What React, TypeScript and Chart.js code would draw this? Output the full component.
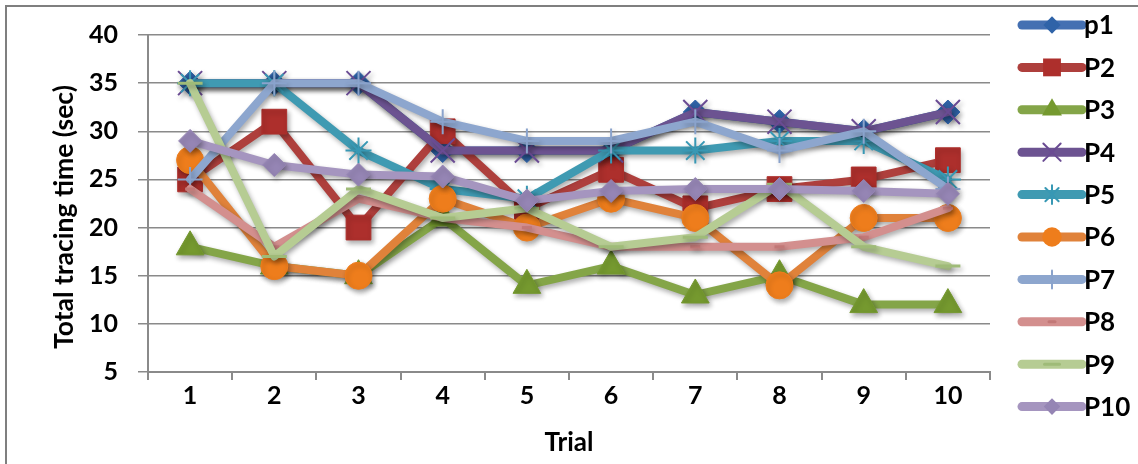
import React, { useEffect, useRef } from "react";
import { Chart, registerables } from "chart.js";

Chart.register(...registerables);

// Trials on the x axis
const trials = ["1", "2", "3", "4", "5", "6", "7", "8", "9", "10"];

// Participants (legend order)
const participants = ["p1", "P2", "P3", "P4", "P5", "P6", "P7", "P8", "P9", "P10"];

// Total tracing time (sec) per trial
const p1 = [35, 35, 35, 28, 28, 28, 32, 31, 30, 32];
const p2 = [25, 31, 20, 30, 22, 26, 22, 24, 25, 27];
const p3 = [18, 16, 15, 21, 14, 16, 13, 15, 12, 12];
const p4 = [35, 35, 35, 28, 28, 28, 32, 31, 30, 32];
const p5 = [35, 35, 28, 24, 23, 28, 28, 29, 29, 25];
const p6 = [27, 16, 15, 23, 20, 23, 21, 14, 21, 21];
const p7 = [25, 35, 35, 31, 29, 29, 31, 28, 30, 24];
const p8 = [24, 18, 23, 21, 20, 18, 18, 18, 19, 22];
const p9 = [35, 17, 24, 21, 22, 18, 19, 24.5, 18, 16];
const p10 = [29, 26.5, 25.5, 25.3, 22.8, 23.8, 24, 24, 23.8, 23.5];

const seriesValues = [p1, p2, p3, p4, p5, p6, p7, p8, p9, p10];

// Y axis range and tick step
const yMin = 5;
const yMax = 40;
const yStep = 5;

const lineColors = [
  "#4470B2", "#AE3F3C", "#84A548", "#6C5391", "#3F9AB2",
  "#E0823A", "#8DA6CE", "#D38F8E", "#B6CC93", "#A595BF",
];
const markerColors = [
  "#2F63A8", "#AD2F2C", "#75992F", "#6A4B93", "#3898B4",
  "#EE7D1C", "#8AA3CC", "#C27877", "#9FBB78", "#9585B4",
];
const markerStyles = [
  "rectRot", "rect", "triangle", "crossRot", "star",
  "circle", "cross", "line", "line", "rectRot",
];
const markerRadii = [12, 17.5, 16, 17, 13, 13.5, 12.5, 5, 12.5, 11.5];
const markerBorderWidths = [1, 1, 1, 2, 2, 1, 2, 3, 3, 1];

const FONT = "Lato, 'Open Sans', 'DejaVu Sans', sans-serif";
const WEIGHT = "bold";
const GRID = "#8a8a8a";

// Soft drop shadow under each series, drawn inside the dataset hooks
const shadowPlugin = {
  id: "seriesShadow",
  beforeDatasetDraw(chart: any) {
    const ctx = chart.ctx;
    ctx.save();
    ctx.shadowColor = "rgba(0,0,0,0.32)";
    ctx.shadowBlur = 5;
    ctx.shadowOffsetX = 2;
    ctx.shadowOffsetY = 3;
  },
  afterDatasetDraw(chart: any) {
    chart.ctx.restore();
  },
};

function drawMarker(ctx: CanvasRenderingContext2D, style: string, r: number, x: number, y: number) {
  ctx.beginPath();
  switch (style) {
    case "rectRot":
      ctx.moveTo(x - r, y);
      ctx.lineTo(x, y - r);
      ctx.lineTo(x + r, y);
      ctx.lineTo(x, y + r);
      ctx.closePath();
      ctx.fill();
      break;
    case "rect": {
      const s = r * Math.SQRT1_2;
      ctx.rect(x - s, y - s, 2 * s, 2 * s);
      ctx.fill();
      break;
    }
    case "triangle": {
      const a = -Math.PI / 2;
      ctx.moveTo(x + Math.cos(a) * r, y + Math.sin(a) * r);
      ctx.lineTo(x + Math.cos(a + (2 * Math.PI) / 3) * r, y + Math.sin(a + (2 * Math.PI) / 3) * r);
      ctx.lineTo(x + Math.cos(a + (4 * Math.PI) / 3) * r, y + Math.sin(a + (4 * Math.PI) / 3) * r);
      ctx.closePath();
      ctx.fill();
      break;
    }
    case "circle":
      ctx.arc(x, y, r, 0, Math.PI * 2);
      ctx.fill();
      break;
    case "crossRot": {
      const d = r * Math.SQRT1_2;
      ctx.moveTo(x - d, y - d);
      ctx.lineTo(x + d, y + d);
      ctx.moveTo(x - d, y + d);
      ctx.lineTo(x + d, y - d);
      ctx.stroke();
      break;
    }
    case "star": {
      const d = r * Math.SQRT1_2;
      ctx.moveTo(x - d, y - d);
      ctx.lineTo(x + d, y + d);
      ctx.moveTo(x - d, y + d);
      ctx.lineTo(x + d, y - d);
      ctx.moveTo(x, y - r);
      ctx.lineTo(x, y + r);
      ctx.stroke();
      break;
    }
    case "cross":
      ctx.moveTo(x, y - r);
      ctx.lineTo(x, y + r);
      ctx.stroke();
      break;
    case "line":
      ctx.moveTo(x - r, y);
      ctx.lineTo(x + r, y);
      ctx.stroke();
      break;
  }
}

// Frame, axis titles and the line-and-marker legend on the right
const decorPlugin = {
  id: "decor",
  beforeDraw(chart: any) {
    const ctx = chart.ctx;
    ctx.save();
    ctx.fillStyle = "#ffffff";
    ctx.fillRect(0, 0, chart.width, chart.height);
    ctx.strokeStyle = "#7f7f7f";
    ctx.lineWidth = 2;
    ctx.strokeRect(6, 6, chart.width + 40, chart.height + 40);
    ctx.restore();
  },
  afterDraw(chart: any) {
    const ctx = chart.ctx;
    const area = chart.chartArea;
    ctx.save();
    ctx.fillStyle = "#000000";
    ctx.textAlign = "center";
    ctx.textBaseline = "middle";
    ctx.font = `${WEIGHT} 26px ${FONT}`;
    ctx.fillText("Trial", (area.left + area.right) / 2, 443);

    ctx.save();
    ctx.translate(64, 217);
    ctx.rotate(-Math.PI / 2);
    ctx.font = `${WEIGHT} 26.5px ${FONT}`;
    ctx.fillText("Total tracing time (sec)", 0, 0);
    ctx.restore();

    // Legend
    const x0 = area.right + 32;
    const x1 = area.right + 92;
    const xm = (x0 + x1) / 2;
    participants.forEach((name, i) => {
      const y = 25 + i * 42.4;
      ctx.save();
      ctx.lineCap = "round";
      ctx.lineWidth = 9;
      ctx.strokeStyle = lineColors[i];
      ctx.beginPath();
      ctx.moveTo(x0, y);
      ctx.lineTo(x1, y);
      ctx.stroke();
      ctx.fillStyle = markerColors[i];
      ctx.strokeStyle = markerColors[i];
      ctx.lineWidth = markerBorderWidths[i];
      const r = markerStyles[i] === "line" ? markerRadii[i] * 0.6 : markerRadii[i] * 0.72;
      drawMarker(ctx, markerStyles[i], r, xm, y);
      ctx.restore();
      ctx.fillStyle = "#000000";
      ctx.textAlign = "left";
      ctx.font = `${WEIGHT} 26px ${FONT}`;
      ctx.fillText(name, x1 + 2, y + 1);
    });
    ctx.restore();
  },
};

export default function App() {
  const canvasRef = useRef<HTMLCanvasElement | null>(null);

  useEffect(() => {
    const canvas = canvasRef.current;
    if (!canvas) return;

    const datasets = participants.map((name, i) => ({
      label: name,
      data: seriesValues[i],
      borderColor: lineColors[i],
      backgroundColor: markerColors[i],
      borderWidth: 8,
      borderJoinStyle: "round" as const,
      borderCapStyle: "round" as const,
      pointStyle: markerStyles[i],
      pointRadius: markerRadii[i],
      pointBackgroundColor: markerColors[i],
      pointBorderColor: markerColors[i],
      pointBorderWidth: markerBorderWidths[i],
      tension: 0,
      fill: false,
      order: participants.length - 1 - i,
    }));

    const chart = new Chart(canvas, {
      type: "line",
      data: { labels: trials, datasets },
      options: {
        animation: false,
        responsive: false,
        devicePixelRatio: 1,
        layout: { padding: { top: 25, right: 148, left: 0, bottom: 0 } },
        plugins: {
          legend: { display: false },
          tooltip: { enabled: false },
        },
        scales: {
          x: {
            offset: true,
            grid: {
              display: true,
              drawOnChartArea: false,
              offset: true,
              color: GRID,
              lineWidth: 2,
              tickLength: 8,
              tickColor: GRID,
            },
            border: { display: true, color: GRID, width: 2 },
            ticks: {
              color: "#000",
              padding: 1,
              font: { family: FONT, size: 25, weight: WEIGHT },
              maxRotation: 0,
            },
            afterFit(scale: any) {
              scale.height = 92;
            },
          },
          y: {
            min: yMin,
            max: yMax,
            grid: {
              color: GRID,
              lineWidth: 1.5,
              tickLength: 10,
              tickColor: GRID,
            },
            border: { display: true, color: GRID, width: 2 },
            ticks: {
              stepSize: yStep,
              color: "#000",
              padding: 20,
              font: { family: FONT, size: 25, weight: WEIGHT },
            },
            afterFit(scale: any) {
              scale.width = 148;
            },
          },
        },
      },
      plugins: [shadowPlugin, decorPlugin],
    } as any);

    return () => chart.destroy();
  }, []);

  return (
    <div style={{ position: "fixed", left: 0, top: 0, width: 1138, height: 464, background: "#fff" }}>
      <canvas ref={canvasRef} width={1138} height={464} style={{ display: "block", width: 1138, height: 464 }} />
    </div>
  );
}
